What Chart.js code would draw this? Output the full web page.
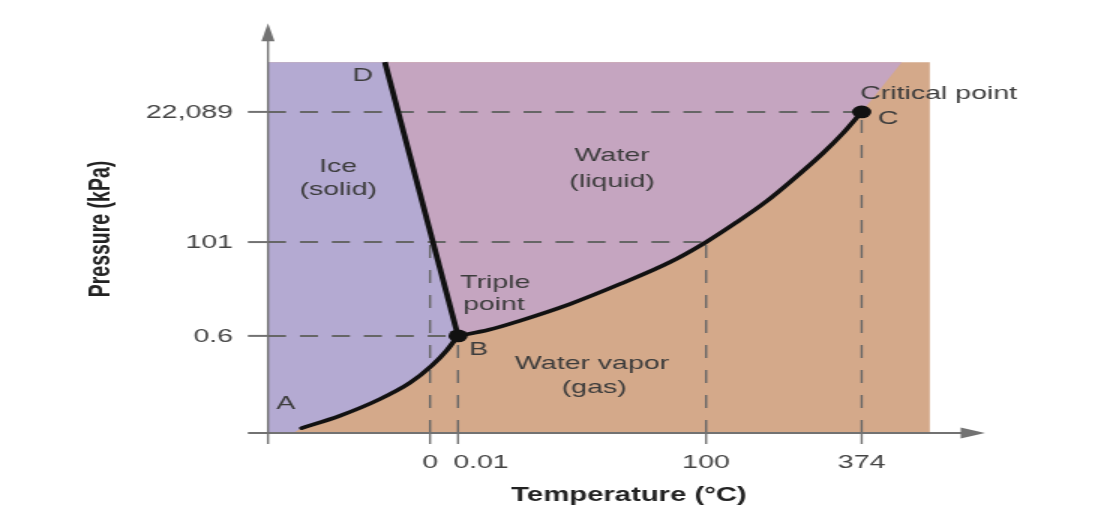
<!DOCTYPE html>
<html><head><meta charset="utf-8">
<script src="https://cdn.jsdelivr.net/npm/chart.js@4.4.1/dist/chart.umd.min.js"></script>
<style>
html,body{margin:0;padding:0;background:#ffffff;overflow:hidden;width:1096px;height:524px;}
#wrap{width:731px;height:524px;transform:scaleX(1.5);transform-origin:0 0;}
canvas{display:block;}
</style></head><body>
<div id="wrap"><canvas id="c" width="731" height="524"></canvas></div>
<script>
// ---- data (schematic axis positions; the diagram is not to scale) ----
const xTickValues = [22.6, 26.5, 61.1, 82.8];
const xTickLabels = ['0', '0.01', '100', '374'];
const yTickValues = [23.8, 46.8, 78.7];
const yTickLabels = ['0.6', '101', '22,089'];

// solid/gas boundary A -> B
const solidGasX = [4.7, 10.0, 15.6, 19.8, 22.9, 24.9, 26.5];
const solidGasY = [1.2, 4.2, 8.3, 12.3, 16.6, 20.2, 23.8];
// solid/liquid boundary D -> B
const solidLiquidX = [16.3, 26.5];
const solidLiquidY = [90.9, 23.8];
// liquid/gas boundary B -> C
const liquidGasX = [26.5, 30.8, 35.1, 42.1, 49.1, 56.1, 61.1, 65.4, 69.6, 72.8, 77.4, 80.2, 82.8];
const liquidGasY = [23.8, 25.3, 27.5, 31.6, 36.5, 41.9, 46.8, 51.7, 56.9, 61.5, 68.6, 73.5, 78.7];
// triple point B and critical point C
const pointNames = ['B', 'C'];
const pointX = [26.5, 82.8];
const pointY = [23.8, 78.7];
// guide-line ends: horizontal guides (per y tick) end at x, vertical guides (per x tick) end at y
const hGuideEndX = [26.5, 61.1, 82.8];
const vGuideEndY = [46.8, 23.8, 46.8, 78.7];
// extent of the shaded diagram
const diagramTop = 90.9;
const diagramRight = 92.3;
const supercriticalTopX = 88.4;

// ---- styles ----
const ICE = '#b4aad2', LIQ = '#c5a5c0', GAS = '#d4a98a';
const AXIS = '#727272', GUIDE = '#666666', CURVE = '#111111', TXT = '#3c3c3c';
const FONT = '"Liberation Sans", Arial, sans-serif';

const pts = (xs, ys) => xs.map((x, i) => ({x, y: ys[i]}));
const rev = a => a.slice().reverse();

const gasPoly = [{x:0,y:diagramTop},{x:diagramRight,y:diagramTop},{x:diagramRight,y:0},{x:0,y:0}];
const liqPoly = [{x:solidLiquidX[0],y:diagramTop},{x:supercriticalTopX,y:diagramTop}]
  .concat(rev(pts(liquidGasX, liquidGasY)));
const icePoly = [{x:0,y:diagramTop},{x:solidLiquidX[0],y:diagramTop}]
  .concat(rev(pts(solidGasX, solidGasY)))
  .concat([{x:solidGasX[0]-1.2,y:0},{x:0,y:0}]);

const area = (data, color, order) => ({data, fill:'shape', backgroundColor:color, borderWidth:0,
  pointRadius:0, order, clip:false});
const datasets = [area(gasPoly, GAS, 20), area(liqPoly, LIQ, 19), area(icePoly, ICE, 18)];

yTickValues.forEach((v, i) => datasets.push({data:[{x:0,y:v},{x:hGuideEndX[i],y:v}],
  borderColor:GUIDE, borderWidth:2, borderDash:[12,9.3], pointRadius:0, fill:false, order:10, clip:false}));
xTickValues.forEach((v, i) => datasets.push({data:[{x:v,y:0},{x:v,y:vGuideEndY[i]}],
  borderColor:GUIDE, borderWidth:1.4, borderDash:[13,12], pointRadius:0, fill:false, order:10, clip:false}));

datasets.push({data:pts(solidGasX, solidGasY), borderColor:CURVE, borderWidth:3.6, pointRadius:0,
  cubicInterpolationMode:'monotone', fill:false, order:3, clip:false, borderCapStyle:'round'});
datasets.push({data:pts(solidLiquidX, solidLiquidY), borderColor:CURVE, borderWidth:3.8, pointRadius:0,
  fill:false, order:3, clip:false});
datasets.push({data:pts(liquidGasX, liquidGasY), borderColor:CURVE, borderWidth:3.6, pointRadius:0,
  cubicInterpolationMode:'monotone', fill:false, order:3, clip:false});
datasets.push({data:pts(pointX, pointY), showLine:false, pointRadius:6.4, pointBackgroundColor:CURVE,
  pointBorderWidth:0, fill:false, order:1, clip:false});

// annotations (positions in axis units)
const labels = [
  {t:'Ice', x:9.8, y:65.2}, {t:'(solid)', x:9.8, y:59.6},
  {t:'Water', x:48.0, y:67.9}, {t:'(liquid)', x:48.0, y:61.5},
  {t:'Triple', x:31.7, y:36.8}, {t:'point', x:31.5, y:31.4},
  {t:'Water vapor', x:45.2, y:16.9}, {t:'(gas)', x:45.5, y:11.0},
  {t:'Critical point', x:82.6, y:83.1, align:'left'},
  {t:'A', x:2.5, y:7.1}, {t:'B', x:29.4, y:20.3}, {t:'C', x:86.5, y:77.0}, {t:'D', x:13.2, y:87.5}
];
const xLabelOffset = [0, 15.3, 0, 0];

const decor = {
  id:'decor',
  afterDatasetsDraw(chart) {
    const ctx = chart.ctx, xs = chart.scales.x, ys = chart.scales.y;
    const X = v => xs.getPixelForValue(v), Y = v => ys.getPixelForValue(v);
    ctx.save();
    ctx.strokeStyle = AXIS; ctx.fillStyle = AXIS;
    // x axis
    ctx.lineWidth = 2;
    ctx.beginPath(); ctx.moveTo(X(-2.8), Y(0)); ctx.lineTo(X(97), Y(0)); ctx.stroke();
    ctx.beginPath(); ctx.moveTo(X(100), Y(0)); ctx.lineTo(X(96.6), Y(0)-5.5); ctx.lineTo(X(96.6), Y(0)+5.5); ctx.closePath(); ctx.fill();
    // y axis
    ctx.lineWidth = 1.4;
    ctx.beginPath(); ctx.moveTo(X(0), Y(-2.7)); ctx.lineTo(X(0), Y(96.5)); ctx.stroke();
    ctx.beginPath(); ctx.moveTo(X(0), Y(100.4)); ctx.lineTo(X(0)-4.4, Y(96.0)); ctx.lineTo(X(0)+4.4, Y(96.0)); ctx.closePath(); ctx.fill();
    // ticks
    ctx.lineWidth = 2;
    yTickValues.forEach(v => { ctx.beginPath(); ctx.moveTo(X(-2.8), Y(v)); ctx.lineTo(X(0), Y(v)); ctx.stroke(); });
    ctx.lineWidth = 1.4;
    xTickValues.forEach(v => { ctx.beginPath(); ctx.moveTo(X(v), Y(0)); ctx.lineTo(X(v), Y(-2.7)); ctx.stroke(); });
    // tick labels
    ctx.fillStyle = '#444444';
    ctx.font = '19px ' + FONT;
    ctx.textBaseline = 'middle';
    ctx.textAlign = 'right';
    yTickValues.forEach((v, i) => ctx.fillText(yTickLabels[i], X(0) - 23.3, Y(v) + 1));
    ctx.textAlign = 'center';
    xTickValues.forEach((v, i) => ctx.fillText(xTickLabels[i], X(v) + xLabelOffset[i], Y(0) + 30));
    // axis titles
    ctx.fillStyle = '#222222';
    ctx.font = 'bold 19.5px ' + FONT;
    ctx.fillText('Temperature (°C)', 629 / 1.5, 496);
    ctx.save();
    ctx.translate(102 / 1.5, 229);
    ctx.rotate(-Math.PI / 2);
    ctx.font = 'bold 19.5px ' + FONT;
    ctx.fillText('Pressure (kPa)', 0, 0);
    ctx.restore();
    // region labels
    ctx.fillStyle = TXT;
    ctx.font = '19px ' + FONT;
    labels.forEach(l => { ctx.textAlign = l.align || 'center'; ctx.fillText(l.t, X(l.x), Y(l.y)); });
    ctx.restore();
  }
};

new Chart(document.getElementById('c'), {
  type:'line',
  data:{datasets},
  options:{
    responsive:false, animation:false, events:[],
    layout:{padding:{left:268/1.5, right:731 - 985/1.5, top:25, bottom:91}},
    scales:{
      x:{type:'linear', min:0, max:100, display:false},
      y:{type:'linear', min:0, max:100, display:false}
    },
    plugins:{legend:{display:false}, tooltip:{enabled:false}}
  },
  plugins:[decor]
});
</script>
</body></html>
